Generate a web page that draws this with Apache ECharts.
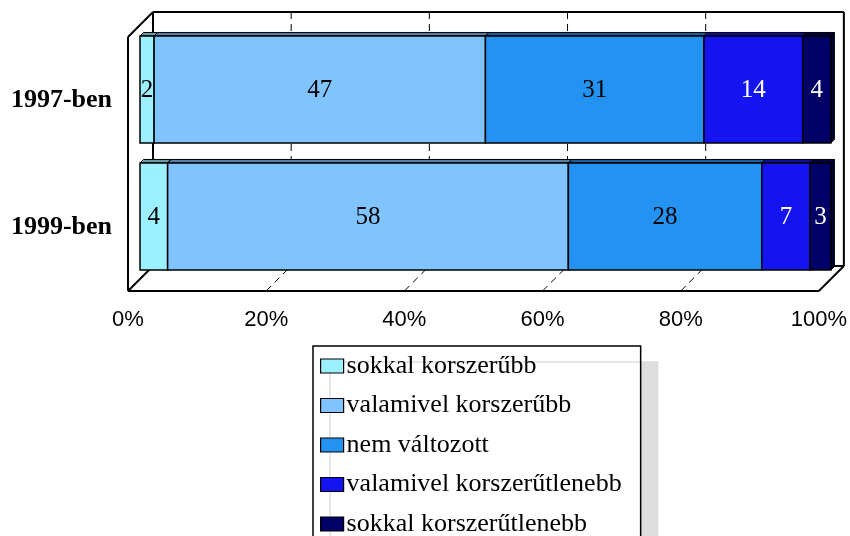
<!DOCTYPE html>
<html>
<head>
<meta charset="utf-8">
<script src="https://cdn.jsdelivr.net/npm/echarts@6/dist/echarts.min.js"></script>
<style>
  html, body { margin: 0; padding: 0; background: #fff; }
  #chart { width: 850px; height: 536px; }
</style>
</head>
<body>
<div id="chart"></div>
<script>
var categories = ['1997-ben', '1999-ben'];
var seriesNames = [
  'sokkal korszerűbb',
  'valamivel korszerűbb',
  'nem változott',
  'valamivel korszerűtlenebb',
  'sokkal korszerűtlenebb'
];
var values1997 = [2, 47, 31, 14, 4];
var values1999 = [4, 58, 28, 7, 3];
var gridTicks = [20, 40, 60, 80];

var COLORS = ['#9cf0ff', '#80c4ff', '#2392f0', '#1414f0', '#000066'];
var LABEL_COLORS = ['#000', '#000', '#000', '#fff', '#fff'];

var WALL_DEPTH = 25;   // 3d box depth in px
var SHIFT_X = 12, SHIFT_Y = -11; // bars sit in the middle of the depth
var BAR_DEPTH = 3.5;
var BAR_RATIO = 0.843;

function shade(hex, k) {
  var n = parseInt(hex.slice(1), 16);
  var r = Math.round(((n >> 16) & 255) * k);
  var g = Math.round(((n >> 8) & 255) * k);
  var b = Math.round((n & 255) * k);
  return 'rgb(' + r + ',' + g + ',' + b + ')';
}

// 100% stacking: [start%, end%, category index, raw value]
var rows = [values1997, values1999];
var stacked = seriesNames.map(function () { return []; });
rows.forEach(function (vals, c) {
  var total = vals.reduce(function (a, b) { return a + b; }, 0);
  var acc = 0;
  vals.forEach(function (v, s) {
    var start = acc / total * 100;
    acc += v;
    stacked[s].push([start, acc / total * 100, c, v]);
  });
});

function renderFrame(params, api) {
  var cs = params.coordSys;
  var L = cs.x, T = cs.y, R = cs.x + cs.width, B = cs.y + cs.height, D = WALL_DEPTH;
  function line(x1, y1, x2, y2, dash) {
    return {
      type: 'line',
      shape: { x1: x1, y1: y1, x2: x2, y2: y2 },
      style: { stroke: '#000', lineWidth: dash ? 1 : 2, lineDash: dash ? [7, 5] : null }
    };
  }
  var children = [];
  gridTicks.forEach(function (v) {
    var x = api.coord([v, 0])[0];
    children.push(line(x + D, T - D, x + D, B - D, true));
    children.push(line(x, B, x + D, B - D, true));
  });
  children.push(
    line(L + D, T - D, R + D, T - D),
    line(R + D, T - D, R + D, B - D),
    line(L + D, T - D, L + D, B - D),
    line(L + D, B - D, R + D, B - D),
    line(L, T, L, B),
    line(L, B, R, B),
    line(L, T, L + D, T - D),
    line(L, B, L + D, B - D),
    line(R, B, R + D, B - D)
  );
  return { type: 'group', children: children };
}

function makeBarRender(idx) {
  return function (params, api) {
    var cat = api.value(2);
    var a = api.coord([api.value(0), cat]);
    var b = api.coord([api.value(1), cat]);
    var h = api.size([0, 1])[1] * BAR_RATIO;
    var x0 = a[0] + SHIFT_X, x1 = b[0] + SHIFT_X;
    var y0 = a[1] + SHIFT_Y - h / 2, y1 = y0 + h;
    var d = BAR_DEPTH;
    var col = COLORS[idx];
    return {
      type: 'group',
      children: [
        { type: 'polygon', shape: { points: [[x0, y0], [x0 + d, y0 - d], [x1 + d, y0 - d], [x1, y0]] },
          style: { fill: shade(col, 0.65), stroke: '#000', lineWidth: 1 } },
        { type: 'polygon', shape: { points: [[x1, y0], [x1 + d, y0 - d], [x1 + d, y1 - d], [x1, y1]] },
          style: { fill: shade(col, 0.5), stroke: '#000', lineWidth: 1 } },
        { type: 'rect', shape: { x: x0, y: y0, width: x1 - x0, height: h },
          style: { fill: col, stroke: '#000', lineWidth: 1.5 } },
        { type: 'text', style: {
            text: String(api.value(3)), x: (x0 + x1) / 2, y: (y0 + y1) / 2 + 1,
            align: 'center', verticalAlign: 'middle', fill: LABEL_COLORS[idx],
            font: '25px "Liberation Serif"' } }
      ]
    };
  };
}

var series = [{
  type: 'custom',
  name: 'frame',
  renderItem: renderFrame,
  data: [[0, 0]],
  z: 1,
  silent: true
}];
seriesNames.forEach(function (name, i) {
  series.push({
    type: 'custom',
    name: name,
    renderItem: makeBarRender(i),
    encode: { x: [0, 1], y: 2 },
    itemStyle: { color: COLORS[i], borderColor: '#000', borderWidth: 1 },
    data: stacked[i],
    z: 2
  });
});

var myChart = echarts.init(document.getElementById('chart'));
var option = {
  animation: false,
  grid: { left: 128, top: 37, width: 692, height: 254 },
  xAxis: {
    type: 'value', min: 0, max: 100, interval: 20,
    axisLabel: { formatter: '{value}%', fontFamily: 'Liberation Sans', fontSize: 22, color: '#000', margin: 18 },
    axisLine: { show: false }, axisTick: { show: false }, splitLine: { show: false }
  },
  yAxis: {
    type: 'category', data: categories, inverse: true,
    axisLabel: { fontFamily: 'Liberation Serif', fontWeight: 'bold', fontSize: 26, color: '#000', margin: 16 },
    axisLine: { show: false }, axisTick: { show: false }
  },
  legend: {
    data: seriesNames,
    orient: 'vertical',
    left: 313, top: 346, height: 220,
    padding: [7, 19, 6, 7],
    itemGap: 13.5,
    itemWidth: 23, itemHeight: 14,
    icon: 'rect',
    itemStyle: { borderColor: '#000', borderWidth: 1.2 },
    textStyle: { fontFamily: 'Liberation Serif', fontSize: 26, color: '#000', padding: [0, 0, 0, -2] },
    backgroundColor: '#fff',
    borderColor: '#000', borderWidth: 1.5,
    shadowColor: '#dedede', shadowBlur: 0, shadowOffsetX: 17, shadowOffsetY: 16
  },
  series: series
};
myChart.setOption(option);
</script>
</body>
</html>
